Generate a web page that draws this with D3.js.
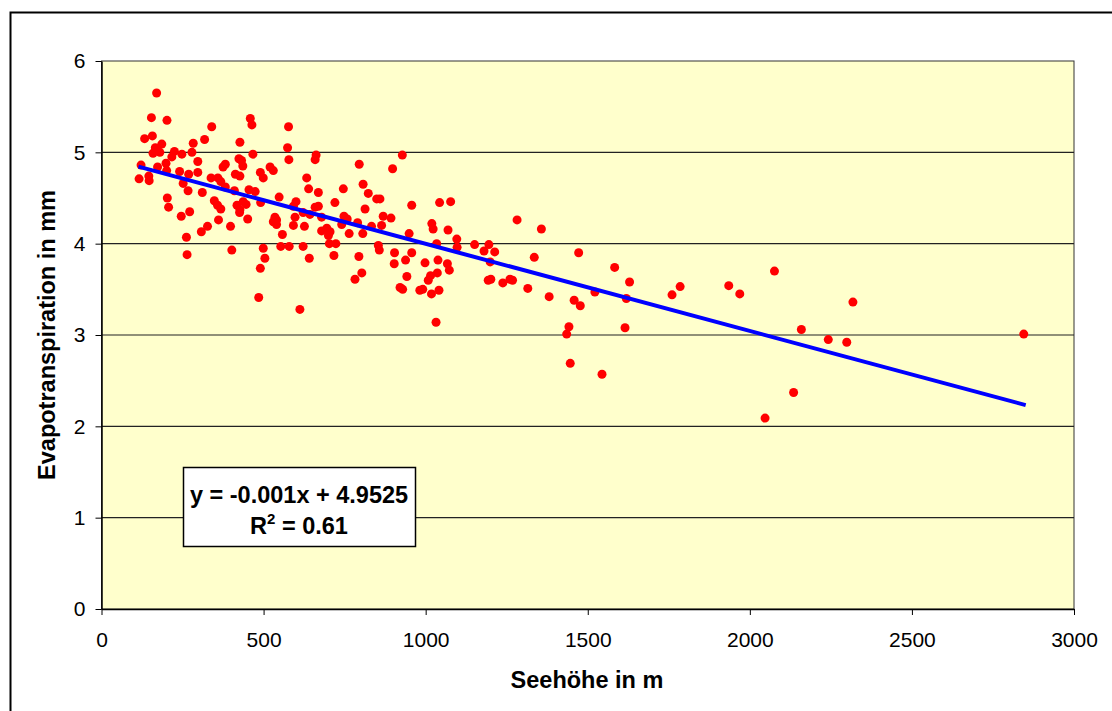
<!DOCTYPE html>
<html>
<head>
<meta charset="utf-8">
<script src="https://cdn.jsdelivr.net/npm/d3@7"></script>
<style>
    body { margin: 0; background: #fff; }
    text { font-family: "Liberation Sans", Arial, sans-serif; }
</style>
</head>
<body>
<svg id="chart"></svg>
<script>
// Elevation (m) and evapotranspiration (mm)
let elevation = [170, 154, 202, 133, 157, 340, 459, 464, 318, 186, 166, 159, 180, 225, 283, 248, 279, 217, 199, 297,
    122, 173, 201, 116, 146, 147, 241, 269, 297, 252, 267, 311, 338, 359, 368, 382, 375, 424, 432, 436,
    427, 467, 413, 427, 490, 410, 455, 474, 382, 203, 207, 246, 272, 348, 358, 368, 418, 427, 446, 437,
    451, 426, 491, 361, 327, 308, 398, 262, 264, 402, 490, 485,
    577, 574, 578, 662, 659, 928, 795, 898, 520, 530, 499, 633, 639, 669, 746, 807, 823, 849, 859, 548,
    600, 592, 659, 669, 720, 813, 957, 622, 643, 597, 535, 540, 530, 540, 592, 626, 679, 748, 758, 741,
    790, 833, 869, 864, 893, 679, 695, 705, 700, 764, 806, 558, 949, 1019, 1023, 1043, 553, 579, 622, 641,
    703, 723, 717, 854, 857, 794, 904, 903, 957, 938, 998, 1038, 1034, 803, 782, 942, 921, 929, 982, 991,
    1008, 1015, 1036, 1018, 1041, 612, 504, 499,
    1077, 1069, 1096, 1097, 1067, 1073, 1151, 1195, 1180, 1213, 1199, 1282, 1357, 1335, 1472, 1193, 1201, 1238, 1260, 1268,
    1315, 1381, 1458, 1477, 1522,
    1583, 1629, 1619, 1615, 1760, 1785, 1935, 1969, 2076, 2318, 2159, 2242, 2299, 2135, 2845, 2047, 1442, 1435, 1446, 1544, 1032]
let evap = [5.65, 5.38, 5.35, 5.15, 5.18, 5.28, 5.37, 5.30, 5.14, 5.09, 5.05, 4.99, 5.00, 5.01, 5.10, 4.98, 5.00, 4.95, 4.88, 4.90,
    4.86, 4.84, 4.80, 4.71, 4.74, 4.69, 4.79, 4.76, 4.78, 4.66, 4.58, 4.56, 4.72, 4.72, 4.68, 4.87, 4.84, 4.93, 4.91, 4.85,
    5.11, 4.98, 4.76, 4.74, 4.78, 4.58, 4.59, 4.57, 4.62, 4.50, 4.40, 4.30, 4.35, 4.47, 4.42, 4.38, 4.42, 4.37, 4.43, 4.46,
    4.27, 4.34, 4.45, 4.26, 4.19, 4.13, 4.19, 4.07, 3.88, 3.93, 3.73, 3.41,
    5.28, 5.05, 4.92, 4.97, 4.92, 4.97, 4.87, 4.82, 4.84, 4.80, 4.72, 4.72, 4.60, 4.56, 4.60, 4.65, 4.55, 4.49, 4.49, 4.51,
    4.46, 4.41, 4.40, 4.41, 4.45, 4.38, 4.42, 4.34, 4.32, 4.29, 4.29, 4.26, 4.24, 4.21, 4.20, 4.19, 4.29, 4.30, 4.27, 4.21,
    4.23, 4.19, 4.30, 4.20, 4.28, 4.14, 4.17, 4.13, 4.09, 4.11, 4.11, 4.10, 4.11, 4.22, 4.16, 4.45, 3.97, 3.97, 3.97, 3.84,
    4.00, 4.00, 3.87, 3.98, 3.93, 3.86, 3.90, 3.78, 3.90, 3.82, 3.79, 3.82, 4.00, 3.68, 3.61, 3.64, 3.52, 3.50, 3.49, 3.50,
    3.60, 3.65, 3.68, 3.45, 3.49, 3.28, 3.84, 3.95,
    4.46, 4.15, 4.05, 3.96, 3.78, 3.71, 3.99, 3.99, 3.92, 3.91, 3.80, 4.26, 4.16, 3.85, 3.90, 3.60, 3.61, 3.57, 3.61, 3.60,
    3.51, 3.42, 3.38, 3.32, 3.47,
    3.74, 3.58, 3.40, 3.08, 3.44, 3.53, 3.54, 3.45, 3.70, 3.36, 3.06, 2.95, 2.92, 2.37, 3.01, 2.09, 3.09, 3.01, 2.69, 2.57, 3.14]

let xTicks = [0, 500, 1000, 1500, 2000, 2500, 3000]
let yTicks = [0, 1, 2, 3, 4, 5, 6]
let gridValues = [1, 2, 3, 4, 5]

// Linear trend as drawn by the spreadsheet
let trendSlope = -0.000954
let trendIntercept = 4.9525
let trendRange = [114, 2851]
let equationText = "y = -0.001x + 4.9525"
let rSquaredText = " = 0.61"

let xTitle = "Seehöhe in m"
let yTitle = "Evapotranspiration in mm"

let svg = d3.select("#chart")
setup(svg, 1112, 711)
drawChart(svg)

function setup(svg, w, h) {
    svg.attr("width", w).attr("height", h)
    // outer chart frame, partly cut off by the window
    svg.append("rect")
        .attr("x", 10.5).attr("y", 12.5)
        .attr("width", 1130).attr("height", 730)
        .attr("fill", "#fff").attr("stroke", "#000").attr("stroke-width", 2)
}

function drawChart(svg) {
    let left = 101.5, right = 1074, top = 61, bottom = 609

    let x = d3.scaleLinear().domain([0, 3000]).range([left, right])
    let y = d3.scaleLinear().domain([0, 6]).range([bottom, top])

    // plot area
    svg.append("rect")
        .attr("x", left).attr("y", top)
        .attr("width", right - left).attr("height", bottom - top)
        .attr("fill", "#FFFFCC").attr("stroke", "#333").attr("stroke-width", 1)

    // horizontal gridlines
    svg.append("g").selectAll("line")
        .data(gridValues)
        .join("line")
        .attr("x1", left).attr("x2", right)
        .attr("y1", d => y(d)).attr("y2", d => y(d))
        .attr("stroke", "#222").attr("stroke-width", 1.2)

    // axes
    let xAxis = d3.axisBottom(x).tickValues(xTicks).tickFormat(d3.format("d"))
        .tickSize(6).tickSizeOuter(0).tickPadding(17)
    let gx = svg.append("g")
        .attr("transform", "translate(0," + bottom + ")")
        .call(xAxis)
    let yAxis = d3.axisLeft(y).tickValues(yTicks).tickFormat(d3.format("d"))
        .tickSize(6).tickSizeOuter(0).tickPadding(10)
    let gy = svg.append("g")
        .attr("transform", "translate(" + left + ",0)")
        .call(yAxis)
    for (let g of [gx, gy]) {
        g.select(".domain").attr("stroke", "#000").attr("stroke-width", 1.5)
        g.selectAll(".tick line").attr("stroke", "#000")
        g.selectAll("text")
            .attr("fill", "#000")
            .style("font-family", "'Liberation Sans', Arial, sans-serif")
            .style("font-size", "21px")
    }

    // scatter points
    let points = elevation.map((e, i) => [e, evap[i]])
    svg.append("g").selectAll("circle")
        .data(points)
        .join("circle")
        .attr("cx", d => x(d[0]))
        .attr("cy", d => y(d[1]))
        .attr("r", 4.5)
        .attr("fill", "#FF0000")

    // trend line
    let trend = trendRange.map(e => [e, trendIntercept + trendSlope * e])
    svg.append("path")
        .datum(trend)
        .attr("fill", "none")
        .attr("stroke", "#0000FF")
        .attr("stroke-width", 4)
        .attr("d", d3.line().x(d => x(d[0])).y(d => y(d[1])))

    // equation box
    svg.append("rect")
        .attr("x", 183.5).attr("y", 467.5)
        .attr("width", 232).attr("height", 79)
        .attr("fill", "#fff").attr("stroke", "#000").attr("stroke-width", 1.5)
    svg.append("text")
        .attr("x", 299).attr("y", 503)
        .attr("text-anchor", "middle")
        .style("font-size", "23.5px").style("font-weight", "bold")
        .text(equationText)
    let r2 = svg.append("text")
        .attr("x", 299).attr("y", 534)
        .attr("text-anchor", "middle")
        .style("font-size", "23.5px").style("font-weight", "bold")
    r2.append("tspan").text("R")
    r2.append("tspan").attr("dy", -10).style("font-size", "15px").text("2")
    r2.append("tspan").attr("dy", 10).text(rSquaredText)

    // axis titles
    svg.append("text")
        .attr("x", 587).attr("y", 688)
        .attr("text-anchor", "middle")
        .style("font-size", "23.5px").style("font-weight", "bold")
        .text(xTitle)
    svg.append("text")
        .attr("transform", "translate(55," + (top + bottom) / 2 + ") rotate(-90)")
        .attr("text-anchor", "middle")
        .style("font-size", "23.5px").style("font-weight", "bold")
        .text(yTitle)
}
</script>
</body>
</html>
